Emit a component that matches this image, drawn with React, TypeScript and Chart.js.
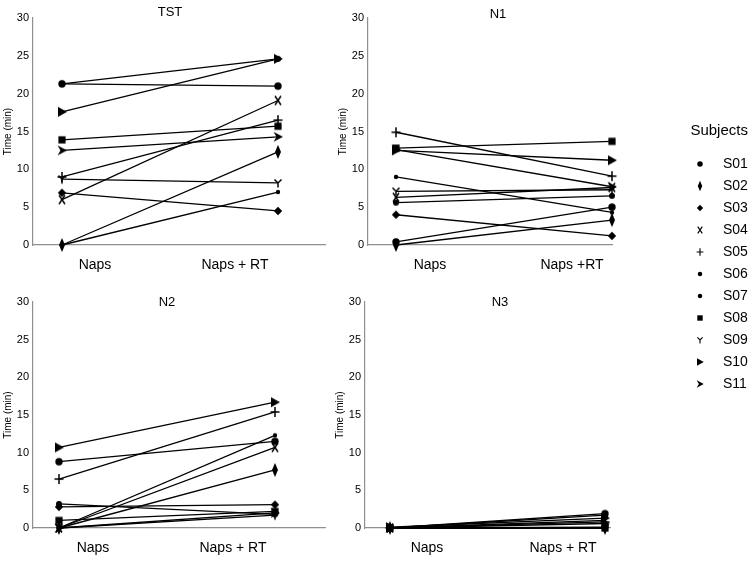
import React, { useEffect, useRef } from 'react';
import { Chart, registerables } from 'chart.js';

Chart.register(...registerables);

// ---------------- data ----------------
const subjects = ['S01', 'S02', 'S03', 'S04', 'S05', 'S06', 'S07', 'S08', 'S09', 'S10', 'S11'];
const categoryLabels = ['Naps', 'Naps + RT'];
const categoryLabelsN1 = ['Naps', 'Naps +RT'];
const yTickValues = [0, 5, 10, 15, 20, 25, 30];
const yAxisTitle = 'Time (min)';
const legendTitle = 'Subjects';

const tstNaps = [21.3, 0, 6.9, 6.0, 9.0, 0, 21.3, 13.9, 8.7, 17.6, 12.5];
const tstRT = [21.0, 12.3, 4.5, 19.1, 16.5, 7.0, 24.6, 15.7, 8.2, 24.6, 14.3];

const n1Naps = [0.4, 0, 4.0, 6.3, 14.9, 9.0, 5.6, 12.8, 7.1, 12.5, 12.6];
const n1RT = [5.0, 3.3, 1.2, 7.6, 9.1, 4.3, 6.5, 13.7, 7.3, 11.2, 7.7];

const n2Naps = [8.8, 0, 2.8, 0, 6.5, 0, 3.2, 1.0, 0, 10.7, 0];
const n2RT = [11.5, 7.7, 3.1, 10.7, 15.4, 12.3, 1.8, 2.2, 1.7, 16.7, 2.0];

const n3Naps = [0, 0, 0, 0, 0, 0, 0, 0, 0, 0.1, 0];
const n3RT = [1.9, 0, 0.1, 1.0, 0.8, 0, 1.7, 0, 0, 1.3, 0.6];

const markerShapes = ['circle', 'thinDiamond', 'diamond', 'x', 'plus', 'smallCircle', 'midCircle', 'square', 'y', 'triRight', 'arrow'];
const legendShapes = ['circle', 'thinDiamond', 'diamond', 'x', 'plus', 'midCircle', 'midCircle', 'square', 'y', 'triRight', 'arrow'];

// ---------------- styles / layout ----------------
const FONT = '"Liberation Sans", Arial, Helvetica, sans-serif';
const AXIS_COLOR = '#8f8f8f';

function makeMarker(shape: string, k: number): HTMLCanvasElement {
  const size = Math.ceil(9 * k) * 2 + 2;
  const c = document.createElement('canvas');
  c.width = size;
  c.height = size;
  const g = c.getContext('2d') as CanvasRenderingContext2D;
  g.translate(size / 2, size / 2);
  g.scale(k, k);
  g.fillStyle = '#000';
  g.strokeStyle = '#000';
  g.lineWidth = 1.5;
  const poly = (pts: number[][]) => {
    g.beginPath();
    g.moveTo(pts[0][0], pts[0][1]);
    for (let i = 1; i < pts.length; i++) g.lineTo(pts[i][0], pts[i][1]);
    g.closePath();
    g.fill();
  };
  const circ = (r: number) => {
    g.beginPath();
    g.arc(0, 0, r, 0, Math.PI * 2);
    g.fill();
  };
  switch (shape) {
    case 'circle':
      circ(3.7);
      break;
    case 'smallCircle':
      circ(2.2);
      break;
    case 'midCircle':
      circ(3);
      break;
    case 'thinDiamond':
      poly([[0, -7], [3, 0], [0, 7], [-3, 0]]);
      break;
    case 'diamond':
      poly([[0, -4.2], [4.2, 0], [0, 4.2], [-4.2, 0]]);
      break;
    case 'x':
      g.beginPath();
      g.moveTo(-3, -4.5); g.lineTo(3, 4.5);
      g.moveTo(3, -4.5); g.lineTo(-3, 4.5);
      g.stroke();
      break;
    case 'plus':
      g.beginPath();
      g.moveTo(-4.5, 0); g.lineTo(4.5, 0);
      g.moveTo(0, -5); g.lineTo(0, 5);
      g.stroke();
      break;
    case 'square':
      g.fillRect(-3.6, -3.6, 7.2, 7.2);
      break;
    case 'y':
      g.beginPath();
      g.moveTo(-3.5, -3.5); g.lineTo(0, 0); g.lineTo(3.5, -3.5);
      g.moveTo(0, 0); g.lineTo(0, 4.5);
      g.stroke();
      break;
    case 'triRight':
      poly([[-4, -5], [5, 0], [-4, 5]]);
      break;
    case 'arrow':
      poly([[-4.5, -5], [5, 0], [-4.5, 5], [-1.5, 0]]);
      break;
  }
  return c;
}

interface Panel {
  title: string;
  naps: number[];
  rt: number[];
  labels: string[];
  left: number; top: number; width: number; height: number;
  areaL: number; areaR: number; areaT: number; areaB: number;
  ptA: number; ptB: number;
  labA: number; labB: number;
  titleX: number; titleY: number;
}

const panels: Panel[] = [
  { title: 'TST', naps: tstNaps, rt: tstRT, labels: categoryLabels,
    left: 0, top: 0, width: 340, height: 280,
    areaL: 33, areaR: 325, areaT: 18, areaB: 245,
    ptA: 62, ptB: 278, labA: 95, labB: 235, titleX: 170, titleY: 12 },
  { title: 'N1', naps: n1Naps, rt: n1RT, labels: categoryLabelsN1,
    left: 335, top: 0, width: 326, height: 280,
    areaL: 368, areaR: 612, areaT: 18, areaB: 245,
    ptA: 396, ptB: 612, labA: 430, labB: 572, titleX: 498, titleY: 14 },
  { title: 'N2', naps: n2Naps, rt: n2RT, labels: categoryLabels,
    left: 0, top: 282, width: 340, height: 280,
    areaL: 33, areaR: 325, areaT: 302, areaB: 528,
    ptA: 59, ptB: 275, labA: 93, labB: 233, titleX: 167, titleY: 302 },
  { title: 'N3', naps: n3Naps, rt: n3RT, labels: categoryLabels,
    left: 332, top: 282, width: 336, height: 280,
    areaL: 365, areaR: 610, areaT: 302, areaB: 528,
    ptA: 390, ptB: 605, labA: 427, labB: 563, titleX: 500, titleY: 302 },
];

function panelConfig(p: Panel, markers: HTMLCanvasElement[]): any {
  const gap = p.ptB - p.ptA;
  const xMin = -(p.ptA - p.areaL) / gap;
  const xMax = 1 + (p.areaR - p.ptB) / gap;
  const labVals = [(p.labA - p.ptA) / gap, (p.labB - p.ptA) / gap];
  const titlePlugin = {
    id: 'panelTitle',
    afterDraw(chart: any) {
      const ctx = chart.ctx;
      ctx.save();
      ctx.font = `13px ${FONT}`;
      ctx.fillStyle = '#000';
      ctx.textAlign = 'center';
      ctx.textBaseline = 'middle';
      ctx.fillText(p.title, p.titleX - p.left, p.titleY - p.top);
      ctx.restore();
    },
  };
  return {
    type: 'line',
    data: {
      datasets: subjects.map((s, i) => ({
        label: s,
        data: [{ x: 0, y: p.naps[i] }, { x: 1, y: p.rt[i] }],
        borderColor: '#000',
        backgroundColor: '#000',
        borderWidth: 1.3,
        pointStyle: markers[i],
        pointRadius: 4,
        pointHoverRadius: 4,
        clip: false,
        fill: false,
        tension: 0,
      })),
    },
    options: {
      animation: false,
      responsive: false,
      events: [],
      layout: {
        padding: {
          left: 0,
          top: p.areaT - p.top,
          right: p.left + p.width - p.areaR,
          bottom: 0,
        },
      },
      plugins: {
        legend: { display: false },
        tooltip: { enabled: false },
        title: { display: false },
      },
      scales: {
        x: {
          type: 'linear',
          min: xMin,
          max: xMax,
          grid: { display: false, drawTicks: false },
          border: { display: true, color: AXIS_COLOR, width: 1.2 },
          afterBuildTicks: (scale: any) => {
            scale.ticks = labVals.map((v) => ({ value: v }));
          },
          ticks: {
            callback: (_v: any, i: number) => p.labels[i],
            font: { family: FONT, size: 14 },
            color: '#000',
            padding: 12,
            maxRotation: 0,
            autoSkip: false,
          },
          afterFit: (scale: any) => {
            scale.height = p.top + p.height - p.areaB;
          },
        },
        y: {
          type: 'linear',
          min: 0,
          max: 30,
          grid: { display: false, drawTicks: false },
          border: { display: true, color: AXIS_COLOR, width: 1.2 },
          afterBuildTicks: (scale: any) => {
            scale.ticks = yTickValues.map((v) => ({ value: v }));
          },
          ticks: {
            font: { family: FONT, size: 11 },
            color: '#000',
            padding: 4,
          },
          title: {
            display: true,
            text: yAxisTitle,
            font: { family: FONT, size: 10 },
            color: '#000',
            padding: { top: 2, bottom: 0 },
          },
          afterFit: (scale: any) => {
            scale.width = p.areaL - p.left;
          },
        },
      },
    },
    plugins: [titlePlugin],
  };
}

function legendConfig(markers: HTMLCanvasElement[]): any {
  return {
    type: 'line',
    data: {
      datasets: subjects.map((s, i) => ({ label: s, data: [], pointStyle: markers[i] })),
    },
    options: {
      animation: false,
      responsive: false,
      events: [],
      layout: { padding: 0 },
      scales: { x: { display: false }, y: { display: false } },
      plugins: {
        tooltip: { enabled: false },
        legend: {
          display: true,
          position: 'top',
          align: 'start',
          maxHeight: 320,
          title: {
            display: true,
            text: legendTitle,
            color: '#000',
            position: 'end',
            font: { family: FONT, size: 15 },
            padding: { top: 0, bottom: 8 },
          },
          labels: {
            usePointStyle: true,
            pointStyleWidth: 32,
            boxHeight: 5,
            padding: 8,
            color: '#000',
            font: { family: FONT, size: 14 },
            generateLabels: () =>
              subjects.map((s, i) => ({
                text: s,
                pointStyle: markers[i],
                fillStyle: '#000',
                strokeStyle: '#000',
                lineWidth: 0,
                hidden: false,
                datasetIndex: i,
                fontColor: '#000',
              })),
          },
        },
      },
    },
  };
}

function PanelChart({ p }: { p: Panel }) {
  const ref = useRef<HTMLCanvasElement>(null);
  useEffect(() => {
    const markers = markerShapes.map((s) => makeMarker(s, 1));
    const chart = new Chart(ref.current as HTMLCanvasElement, panelConfig(p, markers));
    return () => chart.destroy();
  }, [p]);
  return (
    <canvas
      ref={ref}
      width={p.width}
      height={p.height}
      style={{ position: 'absolute', left: p.left, top: p.top, width: p.width, height: p.height }}
    />
  );
}

function LegendChart() {
  const ref = useRef<HTMLCanvasElement>(null);
  useEffect(() => {
    const markers = legendShapes.map((s) => makeMarker(s, 0.75));
    const chart = new Chart(ref.current as HTMLCanvasElement, legendConfig(markers));
    return () => chart.destroy();
  }, []);
  return (
    <canvas
      ref={ref}
      width={78}
      height={400}
      style={{ position: 'absolute', left: 676, top: 123, width: 78, height: 400 }}
    />
  );
}

export default function App() {
  return (
    <div style={{ position: 'absolute', left: 0, top: 0, width: 754, height: 562, background: '#fff', overflow: 'hidden' }}>
      {panels.map((p) => (
        <PanelChart key={p.title} p={p} />
      ))}
      <LegendChart />
    </div>
  );
}
